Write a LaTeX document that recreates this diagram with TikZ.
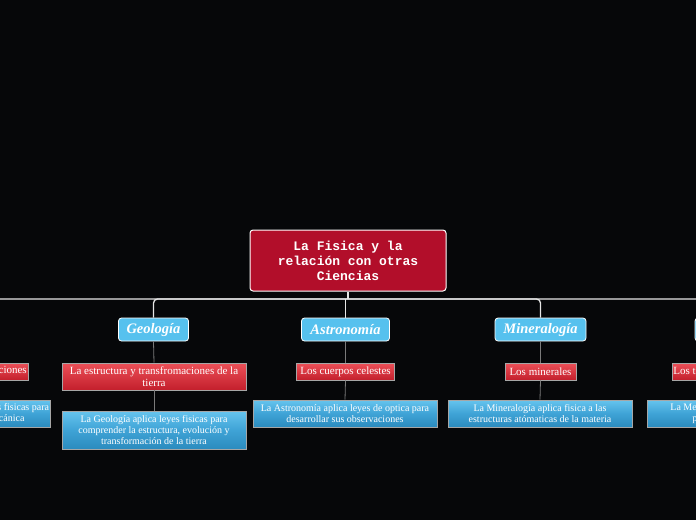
\documentclass[tikz,border=0pt]{standalone}
\usepackage{fontspec}
\setmainfont{Liberation Serif}
\newfontfamily\monofont{Liberation Mono}
\definecolor{bgc}{HTML}{060709}
\definecolor{mainred}{HTML}{B20E2A}
\definecolor{topicblue}{HTML}{56C1EE}
\definecolor{redtop}{HTML}{EC5058}
\definecolor{redbot}{HTML}{C31F2C}
\definecolor{bluetop}{HTML}{66C4EE}
\definecolor{bluemid}{HTML}{3FA3D6}
\definecolor{bluebot}{HTML}{2B8BBE}
\definecolor{linegrey}{HTML}{7A7A7A}
\tikzset{
  mainbox/.style={draw=white, line width=1pt, fill=mainred, rounded corners=3pt,
    minimum width=196pt, minimum height=61pt, align=center,
    font=\monofont\bfseries\fontsize{13}{15}\selectfont, text=white, inner sep=0pt},
  topicbox/.style={draw=white, line width=0.8pt, fill=topicblue, rounded corners=3pt,
    minimum height=23pt, inner sep=0pt, align=center,
    font=\bfseries\itshape\fontsize{14.5}{15}\selectfont, text=white},
  subbox/.style={draw=gray!70, line width=0.6pt, top color=redtop, bottom color=redbot,
    inner sep=0pt, align=center, font=\fontsize{11}{11.5}\selectfont, text=white},
  detbox/.style={draw=gray!70, line width=0.6pt, top color=bluetop, bottom color=bluebot,
    middle color=bluemid, inner sep=0pt, align=center,
    font=\fontsize{10}{11}\selectfont, text=white, minimum width=184pt},
  hubline/.style={draw=white!90!black, line width=1.3pt, rounded corners=4pt},
  link/.style={draw=linegrey, line width=0.8pt}
}
\begin{document}
\begin{tikzpicture}[x=1pt,y=-1pt]
\useasboundingbox (0,0) rectangle (696,520);
\fill[bgc] (0,0) rectangle (696,520);
\clip (0,0) rectangle (696,520);

% main
\node[mainbox] (main) at (348,260.5) {La Fisica y la\\relación con otras\\Ciencias};

% topics
\node[topicbox, minimum width=76pt] (quim) at (-44,329.5) {Química};
\node[topicbox, minimum width=70pt] (geo) at (153.5,329.5) {Geología};
\node[topicbox, minimum width=88pt] (astro) at (345.5,329.5) {Astronomía};
\node[topicbox, minimum width=91pt] (mine) at (540.5,329.5) {Mineralogía};
\node[topicbox, minimum width=108pt] (meteo) at (749,329.5) {Meteorología};

% subs
\node[subbox, minimum width=140pt, minimum height=17pt] (quimS) at (-42,371.5) {Las sustancias y sus reacciones};
\node[subbox, minimum width=184pt, minimum height=27pt] (geoS) at (154,376.5) {La estructura y transfromaciones de la\\tierra};
\node[subbox, minimum width=98pt, minimum height=17pt] (astroS) at (345.5,371.5) {Los cuerpos celestes};
\node[subbox, minimum width=71pt, minimum height=17pt] (mineS) at (540.5,371.5) {Los minerales};
\node[subbox, minimum width=116pt, minimum height=17pt] (meteoS) at (730,371.5) {Los tiempos atmosféricos};

% details
\node[detbox, minimum height=27pt] (quimD) at (-42,413.5) {La Química moderna aplica leyes fisicas para\\estudiar la materia y su mecánica};
\node[detbox, minimum height=38pt] (geoD) at (154,430) {La Geología aplica leyes fisicas para\\comprender la estructura, evolución y\\transformación de la tierra};
\node[detbox, minimum height=27pt] (astroD) at (345,413.5) {La Astronomía aplica leyes de optica para\\desarrollar sus observaciones};
\node[detbox, minimum height=27pt] (mineD) at (540,413.5) {La Mineralogía aplica fisica a las\\estructuras atómaticas de la materia};
\node[detbox, minimum height=27pt] (meteoD) at (739,413.5) {La Meteorología aplica física para\\predecir los fenómenos};

% hub connectors
\coordinate (hub) at (348,299);
\draw[hubline] (main.south) -- (hub);
\draw[hubline] (hub) -| (quim.north);
\draw[hubline] (hub) -| (geo.north);
\draw[hubline] (hub) -| (mine.north);
\draw[hubline] (hub) -| (meteo.north);
\draw[hubline, rounded corners=0pt] (astro.north |- hub) -- (astro.north);

% vertical links
\foreach \a/\b in {geo/geoS, astro/astroS, mine/mineS,
                   quimS/quimD, geoS/geoD, astroS/astroD, mineS/mineD, meteoS/meteoD}
  \draw[link] (\a.south) -- (\b.north);
\draw[link] (quim.south) -- (quim.south |- quimS.north);
\draw[link] (meteoS.north -| meteo.south) -- (meteo.south);
\end{tikzpicture}
\end{document}
